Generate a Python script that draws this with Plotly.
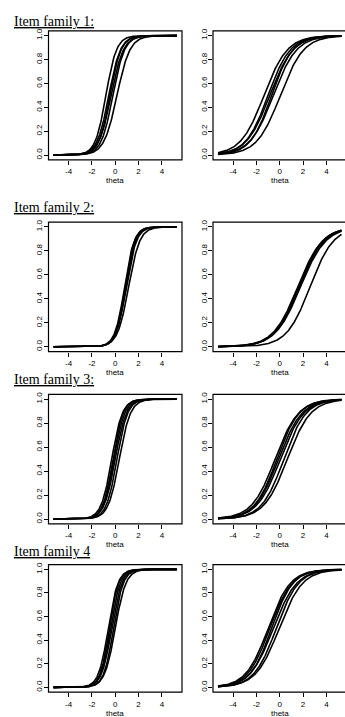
import numpy as np
import plotly.graph_objects as go

# ---- data: item parameters (discrimination a, location b) ----
theta = np.linspace(-5.3, 5.3, 241)

fam1_left_a = [2.2, 2.0, 2.1, 1.9, 2.0, 1.8]
fam1_left_b = [-0.8, -0.55, -0.45, -0.35, -0.2, 0.15]
fam1_right_a = [1.0, 1.05, 1.0, 1.1, 1.0, 1.0]
fam1_right_b = [-1.35, -1.0, -0.85, -0.7, -0.55, 0.05]

fam2_left_a = [2.4, 2.5, 2.4, 2.3, 2.1]
fam2_left_b = [0.8, 0.85, 0.9, 0.95, 1.15]
fam2_right_a = [0.95, 0.97, 0.95, 0.93, 1.0]
fam2_right_b = [1.55, 1.62, 1.68, 1.78, 2.6]

fam3_left_a = [2.2, 2.3, 2.2, 2.1, 2.2, 2.1]
fam3_left_b = [-0.3, -0.2, -0.1, 0.0, 0.15, 0.35]
fam3_right_a = [1.0, 1.05, 1.0, 1.0, 1.05, 1.0]
fam3_right_b = [-0.4, -0.25, -0.1, 0.05, 0.35, 0.65]

fam4_left_a = [2.4, 2.5, 2.4, 2.3, 2.4, 2.2]
fam4_left_b = [-0.6, -0.5, -0.4, -0.3, -0.15, 0.0]
fam4_right_a = [1.05, 1.05, 1.1, 1.0, 1.05, 1.0]
fam4_right_b = [-1.0, -0.85, -0.7, -0.55, -0.3, -0.05]

family_titles = ["Item family 1:", "Item family 2:", "Item family 3:", "Item family 4"]
x_ticks = [-4, -2, 0, 2, 4]
x_ticktext = ["-4", "-2", "0", "2", "4"]
y_ticks = [0.0, 0.2, 0.4, 0.6, 0.8, 1.0]
y_ticktext = ["0.0", "0.2", "0.4", "0.6", "0.8", "1.0"]

panels = [
    (fam1_left_a, fam1_left_b), (fam1_right_a, fam1_right_b),
    (fam2_left_a, fam2_left_b), (fam2_right_a, fam2_right_b),
    (fam3_left_a, fam3_left_b), (fam3_right_a, fam3_right_b),
    (fam4_left_a, fam4_left_b), (fam4_right_a, fam4_right_b),
]

# ---- layout (pixels) ----
W, H = 345, 717
rows_px = [(28, 157.5), (220, 350), (393, 523), (564, 692)]
title_y_px = [19, 205, 378, 551]
left_px = (48.5, 182.0)
right_px = (213.0, 346.5)
XR = 5.73
px_per_unit = (left_px[1] - left_px[0]) / (2 * XR)

fig = go.Figure()
FONT = "Liberation Sans, Arial, sans-serif"

for i, (a_list, b_list) in enumerate(panels):
    r, c = divmod(i, 2)
    n = i + 1
    xs = "x" if n == 1 else f"x{n}"
    ys = "y" if n == 1 else f"y{n}"
    for a, b in zip(a_list, b_list):
        p = 1.0 / (1.0 + np.exp(-a * (theta - b)))
        fig.add_trace(go.Scatter(x=theta, y=p, mode="lines", xaxis=xs, yaxis=ys,
                                 line=dict(color="black", width=1.6),
                                 showlegend=False, hoverinfo="skip"))
    top, bot = rows_px[r]
    if c == 0:
        x0p, x1p = left_px
        xrange = [-XR, XR]
        dom = [x0p / W, x1p / W]
        rect_x1 = 1
    else:
        x0p, x1p = right_px
        vis_right = min(x1p, W)
        xrange = [-XR, -XR + (vis_right - x0p) / px_per_unit]
        dom = [x0p / W, vis_right / W]
        rect_x1 = (x1p - x0p) / (vis_right - x0p)
    ydom = [1 - bot / H, 1 - top / H]
    xa = dict(domain=dom, range=xrange, anchor=ys, tickvals=x_ticks, ticktext=x_ticktext,
              ticks="outside", ticklen=4, tickwidth=1, tickcolor="black",
              showgrid=False, zeroline=False, showline=False,
              tickfont=dict(family=FONT, size=8, color="black"))
    ya = dict(domain=ydom, range=[-0.04, 1.04], anchor=xs, tickvals=y_ticks, ticktext=y_ticktext,
              ticks="outside", ticklen=4, tickwidth=1, tickcolor="black", tickangle=-90,
              ticklabelstandoff=-2,
              showgrid=False, zeroline=False, showline=False,
              tickfont=dict(family=FONT, size=8, color="black"))
    fig.layout["xaxis" if n == 1 else f"xaxis{n}"] = xa
    fig.layout["yaxis" if n == 1 else f"yaxis{n}"] = ya
    fig.add_shape(type="rect", xref=f"{xs} domain", yref=f"{ys} domain",
                  x0=0, x1=rect_x1, y0=0, y1=1, line=dict(color="black", width=1.2))
    cx = (x0p + x1p) / 2 / W
    fig.add_annotation(x=cx, y=1 - (bot + 21) / H, xref="paper", yref="paper",
                       text="theta", showarrow=False, xanchor="center", yanchor="middle",
                       font=dict(family=FONT, size=8, color="black"))

for r, t in enumerate(family_titles):
    fig.add_annotation(x=12 / W, y=1 - title_y_px[r] / H, xref="paper", yref="paper",
                       text=f"<u>{t}</u>", showarrow=False, xanchor="left", yanchor="middle",
                       font=dict(family="Liberation Serif, Times New Roman, serif", size=14, color="black"))

fig.update_layout(width=W, height=H, margin=dict(l=0, r=0, t=0, b=0),
                  paper_bgcolor="white", plot_bgcolor="white", showlegend=False)

fig.write_html("out.html", config={"displayModeBar": False},
               post_script="document.documentElement.style.margin='0';"
                           "document.body.style.margin='0';"
                           "document.body.style.overflow='hidden';")
